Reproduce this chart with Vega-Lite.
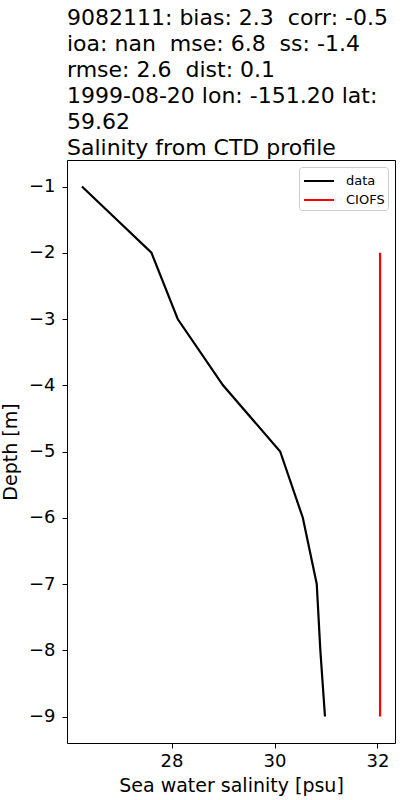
{
  "$schema": "https://vega.github.io/schema/vega-lite/v6.json",
  "autosize": {"type": "none"},
  "width": 328,
  "height": 583,
  "padding": {"left": 67, "top": 160, "right": 5, "bottom": 57},
  "background": "white",
  "config": {
    "font": "DejaVu Sans",
    "view": {"stroke": "black", "strokeWidth": 1},
    "axis": {
      "grid": false,
      "domain": false,
      "tickColor": "black",
      "tickSize": 5,
      "labelColor": "black",
      "labelFontSize": 18,
      "labelFont": "DejaVu Sans",
      "titleColor": "black",
      "titleFontSize": 19,
      "titleFontWeight": "normal",
      "titleFont": "DejaVu Sans"
    }
  },
  "title": {
    "text": ["9082111: bias: 2.3\u00a0 corr: -0.5", "ioa: nan\u00a0 mse: 6.8\u00a0 ss: -1.4", "rmse: 2.6\u00a0 dist: 0.1", "1999-08-20 lon: -151.20 lat:", "59.62", "Salinity from CTD profile"],
    "anchor": "start",
    "frame": "group",
    "fontSize": 22,
    "lineHeight": 26,
    "fontWeight": "normal",
    "font": "DejaVu Sans",
    "color": "black",
    "offset": 0
  },
  "data": {
    "values": [
      {"source": "data", "depth": -1, "salinity": 26.26},
      {"source": "data", "depth": -2, "salinity": 27.61},
      {"source": "data", "depth": -3, "salinity": 28.12},
      {"source": "data", "depth": -4, "salinity": 29.0},
      {"source": "data", "depth": -5, "salinity": 30.11},
      {"source": "data", "depth": -6, "salinity": 30.55},
      {"source": "data", "depth": -7, "salinity": 30.82},
      {"source": "data", "depth": -8, "salinity": 30.89},
      {"source": "data", "depth": -9, "salinity": 30.98},
      {"source": "CIOFS", "depth": -2, "salinity": 32.05},
      {"source": "CIOFS", "depth": -9, "salinity": 32.05}
    ]
  },
  "mark": {"type": "line", "strokeWidth": 2.2},
  "encoding": {
    "x": {
      "field": "salinity",
      "type": "quantitative",
      "scale": {"domain": [25.97, 32.34], "nice": false, "zero": false},
      "axis": {"values": [28, 30, 32], "title": "Sea water salinity [psu]", "titlePadding": 6, "labelPadding": 4}
    },
    "y": {
      "field": "depth",
      "type": "quantitative",
      "scale": {"domain": [-9.4, -0.6], "nice": false, "zero": false},
      "axis": {"values": [-1, -2, -3, -4, -5, -6, -7, -8, -9], "title": "Depth [m]", "titlePadding": 8, "labelPadding": 7}
    },
    "order": {"field": "depth", "sort": "descending"},
    "color": {
      "field": "source",
      "type": "nominal",
      "scale": {"domain": ["data", "CIOFS"], "range": ["black", "red"]},
      "legend": {
        "title": null,
        "orient": "top-right",
        "offset": 7,
        "strokeColor": "#cccccc",
        "fillColor": "white",
        "cornerRadius": 3,
        "padding": 3,
        "symbolType": "M-1.5,0H1.5",
        "symbolSize": 400,
        "symbolStrokeWidth": 2,
        "symbolOffset": 6,
        "labelFontSize": 13,
        "labelFont": "DejaVu Sans",
        "labelColor": "black",
        "rowPadding": 1,
        "labelOffset": 16
      }
    }
  }
}
